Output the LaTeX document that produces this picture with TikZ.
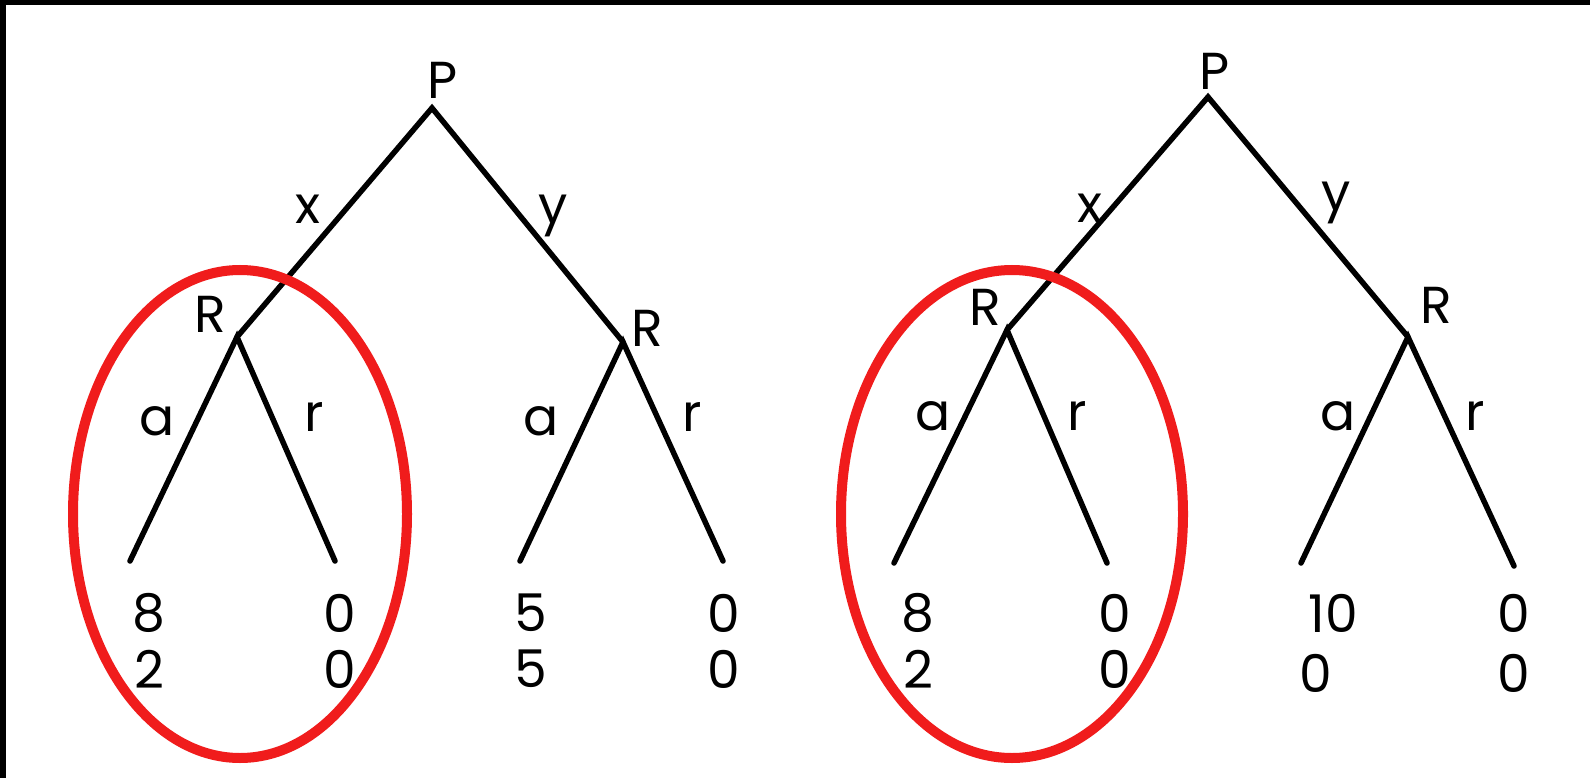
\documentclass[tikz,border=0pt]{standalone}
\usepackage{fontspec}
\setmainfont{Poppins}
\definecolor{ringred}{RGB}{240,28,28}
\begin{document}
\begin{tikzpicture}[x=1pt,y=-1pt,
  edge/.style={line width=5.5pt,line cap=round,line join=miter},
  lbl/.style={inner sep=0pt,font=\fontsize{52}{56}\selectfont},
  ring/.style={draw=ringred,line width=10pt}]
\useasboundingbox (0,0) rectangle (1590,778);
\fill[white] (0,0) rectangle (1590,778);
\fill[black] (0,0) rectangle (1590,5);
\fill[black] (0,0) rectangle (6,778);
% left tree
\coordinate (P1) at (432,108);
\coordinate (R1a) at (237,337);
\coordinate (R1b) at (623,342);
\coordinate (L1) at (130,561);
\coordinate (L2) at (335,561);
\coordinate (L3) at (520,561);
\coordinate (L4) at (723,561);
\draw[edge] (R1a) -- (P1) -- (R1b);
\draw[edge] (L1) -- (R1a) -- (L2);
\draw[edge] (L3) -- (R1b) -- (L4);
\node[lbl] (p1) at (443,80) {P};
\node[lbl] (r1a) at (210,314) {R};
\node[lbl] (r1b) at (647,328) {R};
\node[lbl] (x1) at (308,209) {x};
\node[lbl] (y1) at (553,216) {y};
\node[lbl] (a1) at (157,421) {a};
\node[lbl] (rr1) at (314,417) {r};
\node[lbl] (a2) at (541,421) {a};
\node[lbl] (rr2) at (692,417) {r};
\node[lbl] (v11) at (149,613) {8};
\node[lbl] (v12) at (149,669) {2};
\node[lbl] (v21) at (340,613) {0};
\node[lbl] (v22) at (340,669) {0};
\node[lbl] (v31) at (531,613) {5};
\node[lbl] (v32) at (531,669) {5};
\node[lbl] (v41) at (724,613) {0};
\node[lbl] (v42) at (724,669) {0};
\draw[ring] (240,514) ellipse [x radius=167, y radius=244];
% right tree
\coordinate (P2) at (1208,97);
\coordinate (R2a) at (1007,330);
\coordinate (R2b) at (1408,337);
\coordinate (M1) at (894,563);
\coordinate (M2) at (1107,563);
\coordinate (M3) at (1301,563);
\coordinate (M4) at (1514,566);
\draw[edge] (R2a) -- (P2) -- (R2b);
\draw[edge] (M1) -- (R2a) -- (M2);
\draw[edge] (M3) -- (R2b) -- (M4);
\node[lbl] (p2) at (1215,71) {P};
\node[lbl] (r2a) at (985,307) {R};
\node[lbl] (r2b) at (1436,305) {R};
\node[lbl] (x2) at (1090,208) {x};
\node[lbl] (y2) at (1336,203) {y};
\node[lbl] (a3) at (933,416) {a};
\node[lbl] (rr3) at (1077,416) {r};
\node[lbl] (a4) at (1338,416) {a};
\node[lbl] (rr4) at (1475,416) {r};
\node[lbl] (w11) at (918,613) {8};
\node[lbl] (w12) at (918,669) {2};
\node[lbl] (w21) at (1115,613) {0};
\node[lbl] (w22) at (1115,669) {0};
\node[lbl] (w31) at (1333,613) {10};
\node[lbl] (w32) at (1316,673) {0};
\node[lbl] (w41) at (1514,613) {0};
\node[lbl] (w42) at (1514,673) {0};
\draw[ring] (1012,514) ellipse [x radius=171, y radius=244];
\end{tikzpicture}
\end{document}
